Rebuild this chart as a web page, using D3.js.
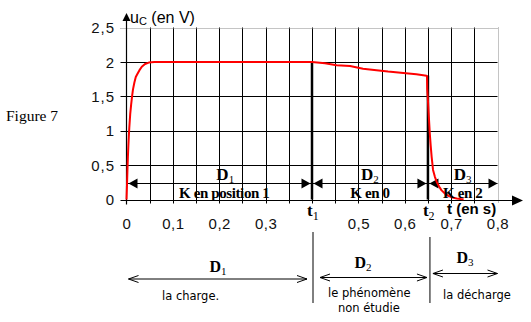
<!DOCTYPE html>
<html><head><meta charset="utf-8">
<script src="https://cdn.jsdelivr.net/npm/d3@7"></script>
<style>
body{margin:0;background:#fff;}
svg{display:block;}
</style></head>
<body>
<svg id="c" width="531" height="322"></svg>
<script>
// ---- data ----
const tValues = [0,0.0005,0.001,0.002,0.003,0.004,0.005,0.006,0.008,0.010,0.012,0.014,0.017,0.020,0.024,0.028,0.033,0.040,0.048,0.060,0.100,0.200,0.300,0.400,
  0.428,0.453,0.482,0.510,0.539,0.564,0.597,0.625,0.647,
  0.648,0.6485,0.650,0.652,0.654,0.656,0.658,0.661,0.665,0.669,0.674,0.679,0.686,0.694,0.703,0.712,0.720,0.727];
const uValues = [0,0.1,0.2,0.42,0.62,0.78,0.92,1.04,1.24,1.38,1.50,1.60,1.70,1.78,1.83,1.88,1.93,1.97,1.99,2.0,2.0,2.0,2.0,2.0,
  1.98,1.95,1.94,1.90,1.88,1.86,1.84,1.82,1.80,
  1.79,1.60,1.44,1.20,0.96,0.78,0.62,0.43,0.33,0.255,0.19,0.136,0.09,0.052,0.028,0.014,0.006,0.004];
const xGridValues = [0.05,0.1,0.15,0.2,0.25,0.3,0.35,0.4,0.45,0.5,0.55,0.6,0.65,0.7,0.75];
const xTickValues = [0,0.1,0.2,0.3,0.5,0.6,0.7,0.8];
const xTickLabels = ["0","0,1","0,2","0,3","0,5","0,6","0,7","0,8"];
const yTickValues = [0,0.5,1,1.5,2,2.5];
const yTickLabels = ["0","0,5","1","1,5","2","2,5"];
const t1 = 0.4, t2 = 0.65, tEnd = 0.8;
const uAtT1 = 2.0, uAtT2 = 1.80;
const phases = [
  {name:"D", sub:"1", k:"K en position 1", from:0, to:t1},
  {name:"D", sub:"2", k:"K en 0", from:t1, to:t2},
  {name:"D", sub:"3", k:"K en 2", from:t2, to:tEnd}
];
const annotLevel = 0.235;

// ---- scales ----
const x = d3.scaleLinear().domain([0,0.8]).range([126.5,497.5]);
const y = d3.scaleLinear().domain([0,2.5]).range([199.5,27.5]);
const svg = d3.select("#c");
const g = svg.append("g");
const sans = "'Liberation Sans', Arial, sans-serif";
const serif = "'Liberation Serif', 'Times New Roman', serif";

// vertical grid
g.append("g").selectAll("line").data(xGridValues).join("line")
  .attr("x1",d=>Math.round(x(d))+0.5).attr("x2",d=>Math.round(x(d))+0.5)
  .attr("y1",y(2.5)).attr("y2",y(0)+4)
  .attr("stroke","#000").attr("stroke-width",1);
// horizontal grid
g.append("g").selectAll("line").data([0.5,1,1.5,2]).join("line")
  .attr("x1",x(0)-6).attr("x2",x(0.8))
  .attr("y1",d=>Math.round(y(d))+0.5).attr("y2",d=>Math.round(y(d))+0.5)
  .attr("stroke","#000").attr("stroke-width",1);
// top & right dotted borders
g.append("line").attr("x1",x(0)-6).attr("x2",x(0.8)).attr("y1",Math.round(y(2.5))+0.5).attr("y2",Math.round(y(2.5))+0.5)
  .attr("stroke","#888").attr("stroke-dasharray","1,1");
g.append("line").attr("x1",Math.round(x(0.8))+0.5).attr("x2",Math.round(x(0.8))+0.5).attr("y1",y(2.5)).attr("y2",y(0)+4)
  .attr("stroke","#888").attr("stroke-dasharray","1,1");

// annotation line
const ya = Math.round(y(annotLevel))+0.5;
g.append("line").attr("x1",x(0)).attr("x2",x(0.8)).attr("y1",ya).attr("y2",ya).attr("stroke","#000");

// x axis with arrow
const y0 = Math.round(y(0))+0.5;
g.append("line").attr("x1",x(0)-6).attr("x2",514).attr("y1",y0).attr("y2",y0).attr("stroke","#000");
g.append("path").attr("d",`M512,${y0-5}L523,${y0}L512,${y0+5}Z`).attr("fill","#000");
// y axis with arrow
const xa = Math.round(x(0))-0.5;
g.append("line").attr("x1",xa).attr("x2",xa).attr("y1",19).attr("y2",y0+4).attr("stroke","#000").attr("stroke-width",1.2);
g.append("path").attr("d",`M${xa-4},21L${xa},13L${xa+4},21Z`).attr("fill","#000");

// thick t1/t2 lines
g.append("line").attr("x1",x(t1)).attr("x2",x(t1)).attr("y1",y(uAtT1)).attr("y2",y(0)).attr("stroke","#000").attr("stroke-width",2.5);
g.append("line").attr("x1",x(t2)).attr("x2",x(t2)).attr("y1",y(uAtT2)).attr("y2",y(0)).attr("stroke","#000").attr("stroke-width",2.5);

// filled arrowheads on the annotation line
function head(tip, dir){ // dir -1 points left, +1 points right
  const L=9,H=5;
  g.append("path").attr("d",`M${tip},${ya}L${tip-dir*L},${ya-H}L${tip-dir*L},${ya+H}Z`).attr("fill","#000");
}
head(x(0)+2,-1);
head(x(t1)-1.5,1); head(x(t1)+1.5,-1);
head(x(t2)-1.5,1); head(x(t2)+1.5,-1);
head(x(tEnd),1);

// curve
const pts = tValues.map((t,i)=>[t,uValues[i]]);
g.append("path").datum(pts)
  .attr("d",d3.line().x(d=>x(d[0])).y(d=>y(d[1])))
  .attr("fill","none").attr("stroke","#ff0000").attr("stroke-width",2).attr("stroke-linejoin","round");

// y tick labels
const yAxis = d3.axisLeft(y).tickValues(yTickValues).tickSize(0).tickPadding(0)
  .tickFormat((d,i)=>yTickLabels[i]);
const ya_g = g.append("g").attr("transform","translate(115,0)").call(yAxis);
ya_g.select(".domain").remove();
ya_g.selectAll("text").attr("font-family",sans).attr("font-size",15).attr("letter-spacing","1px").attr("fill","#111").attr("dy","0.35em");

// x tick labels
const xAxis = d3.axisBottom(x).tickValues(xTickValues).tickSize(0).tickPadding(0)
  .tickFormat((d,i)=>xTickLabels[i]);
const xa_g = g.append("g").attr("transform","translate(0,218)").call(xAxis);
xa_g.select(".domain").remove();
xa_g.selectAll("text").attr("font-family",sans).attr("font-size",15).attr("letter-spacing","0.5px").attr("fill","#111").attr("dy","0.71em");

// axis titles
const yt = g.append("text").attr("x",130).attr("y",23).attr("font-family",sans).attr("font-size",16).attr("fill","#000");
yt.append("tspan").text("u");
yt.append("tspan").attr("font-size",11).attr("dy",2).text("C");
yt.append("tspan").attr("dy",-2).text(" (en V)");
g.append("text").attr("x",447).attr("y",214).attr("font-family",sans).attr("font-weight","bold").attr("font-size",15).text("t (en s)");

// t1, t2 labels
[[t1,"1"],[t2,"2"]].forEach(([t,s])=>{
  const tx = g.append("text").attr("x",x(t)-5).attr("y",216).attr("font-family",serif).attr("font-weight","bold").attr("font-size",17);
  tx.append("tspan").text("t");
  tx.append("tspan").attr("font-size",12).attr("font-weight","normal").attr("dy",4).text(s);
});

// phase labels on the chart
phases.forEach(p=>{
  const cx = (x(p.from)+x(p.to))/2;
  const dt = g.append("text").attr("x",cx+(p.sub==="1"?6:0)).attr("y",180).attr("text-anchor","middle")
    .attr("font-family",serif).attr("font-weight","bold").attr("font-size",17);
  dt.append("tspan").text(p.name);
  dt.append("tspan").attr("font-size",11).attr("font-weight","normal").attr("dy",3).text(p.sub);
  g.append("text").attr("x",cx+(p.sub==="1"?5:0)).attr("y",198).attr("text-anchor","middle")
    .attr("font-family",serif).attr("font-weight","bold").attr("font-size",15).attr("letter-spacing","-0.4px").text(p.k);
});

// Figure label
g.append("text").attr("x",6).attr("y",121).attr("font-family",serif).attr("font-size",15.5).text("Figure 7");

// bottom section
g.append("line").attr("x1",x(t1)+1).attr("x2",x(t1)+1).attr("y1",232).attr("y2",303).attr("stroke","#000");
g.append("line").attr("x1",x(t2)+2).attr("x2",x(t2)+2).attr("y1",237).attr("y2",303).attr("stroke","#000");
const bottomArrows = [
  {x1:x(0)+2, x2:x(t1)-5, yy:279, ly:272, lx:218},
  {x1:x(t1)+8, x2:x(t2)-1, yy:277.5, ly:268, lx:363},
  {x1:x(t2)+5, x2:x(tEnd), yy:273.5, ly:263, lx:465}
];
bottomArrows.forEach((b,i)=>{
  const p = phases[i];
  g.append("line").attr("x1",b.x1).attr("x2",b.x2).attr("y1",b.yy).attr("y2",b.yy).attr("stroke","#000");
  g.append("path").attr("d",`M${b.x1+10},${b.yy-3.5}L${b.x1},${b.yy}L${b.x1+10},${b.yy+3.5}`).attr("fill","none").attr("stroke","#000");
  g.append("path").attr("d",`M${b.x2-10},${b.yy-3.5}L${b.x2},${b.yy}L${b.x2-10},${b.yy+3.5}`).attr("fill","none").attr("stroke","#000");
  const dt = g.append("text").attr("x",b.lx).attr("y",b.ly).attr("text-anchor","middle")
    .attr("font-family",serif).attr("font-weight","bold").attr("font-size",16);
  dt.append("tspan").text(p.name);
  dt.append("tspan").attr("font-size",11).attr("font-weight","normal").attr("dy",3).text(p.sub);
});
const bl = [
  {lines:["la charge."], x:162, y:300},
  {lines:["le phénomène","non étudie"], x:328, y:297},
  {lines:["la décharge"], x:443, y:299}
];
bl.forEach(b=>{
  b.lines.forEach((s,j)=>{
    g.append("text").attr("x",b.x+(j===1?10:0)).attr("y",b.y+j*15).attr("font-family","'DejaVu Sans', sans-serif")
      .attr("font-size",11.5).attr("fill","#000").text(s);
  });
});
</script>
</body></html>
